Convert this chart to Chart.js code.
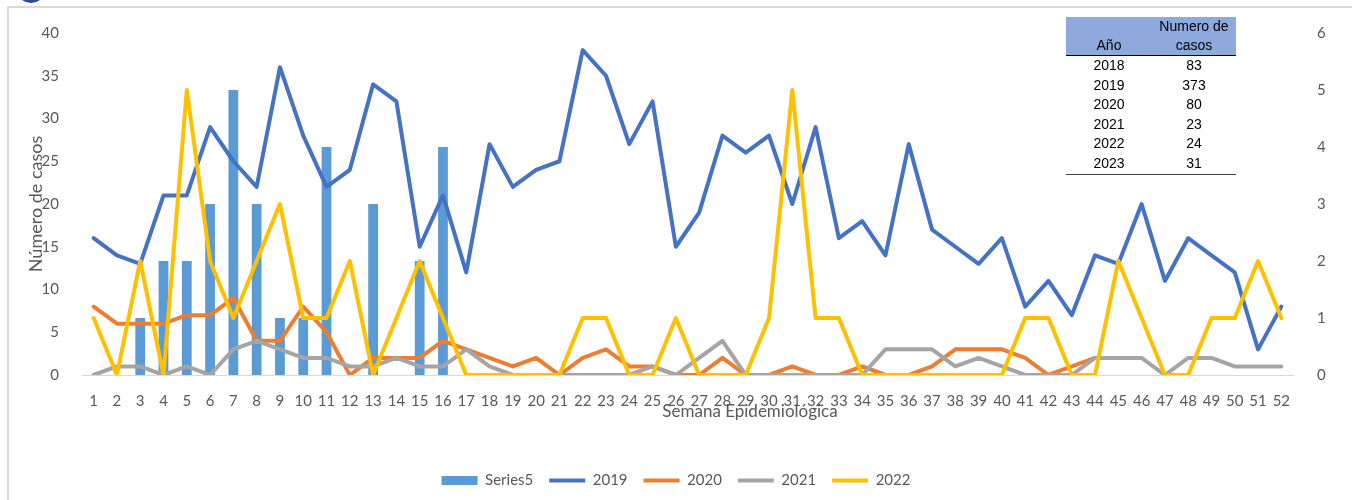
<!DOCTYPE html>
<html>
<head>
<meta charset="utf-8">
<script src="https://cdn.jsdelivr.net/npm/chart.js@4.4.1/dist/chart.umd.min.js"></script>
<style>
  body { margin: 0; background: #fff; }
  #wrap { position: relative; width: 1352px; height: 500px; overflow: hidden; }
  #frame { position: absolute; left: 7px; top: 6px; width: 1400px; height: 600px;
           border-left: 2px solid #d9d9d9; border-top: 2px solid #d9d9d9; }
  #logo { position: absolute; left: 16px; top: -27px; width: 30px; height: 30px;
          border-radius: 50%; background: #2b4c8c; }
  #chart { position: absolute; left: 0; top: 0; }
  #xTitle { position: absolute; left: 600px; top: 401px; width: 300px; text-align: center;
            font: 17px Lato, sans-serif; color: #595959; line-height: 20px; }
  #casos { position: absolute; left: 1066px; top: 17px; border-collapse: collapse;
           font: 14px "Liberation Sans", Arial, sans-serif; color: #000; }
  #casos th { background: #8ea9db; font-weight: normal; vertical-align: bottom;
              line-height: 19px; padding: 0; border-bottom: 1.5px solid #000; }
  #casos td { text-align: center; line-height: 19.6px; padding: 0; }
  #casos tr:last-child td { border-bottom: 1.5px solid #404040; }
</style>
</head>
<body>
<div id="wrap">
  <div id="frame"></div>
  <div id="logo"></div>
  <canvas id="chart" width="1352" height="500"></canvas>
  <div id="xTitle">Semana Epidemiológica</div>
  <table id="casos"></table>
</div>
<script>
/* Semanas epidemiologicas */
const semanas = [];
for (let i = 1; i <= 52; i++) semanas.push(String(i));

/* Casos por semana (eje izquierdo: 2019, 2020, 2021; eje derecho: Series5, 2022) */
const series5 = [0, 0, 1, 2, 2, 3, 5, 3, 1, 1, 4, 0, 3, 0, 2, 4, 0, 0, 0, 0, 0, 0, 0, 0, 0, 0,
                 0, 0, 0, 0, 0, 0, 0, 0, 0, 0, 0, 0, 0, 0, 0, 0, 0, 0, 0, 0, 0, 0, 0, 0, 0, 0];
const casos2019 = [16, 14, 13, 21, 21, 29, 25, 22, 36, 28, 22, 24, 34, 32, 15, 21, 12, 27, 22, 24, 25, 38, 35, 27, 32, 15,
                   19, 28, 26, 28, 20, 29, 16, 18, 14, 27, 17, 15, 13, 16, 8, 11, 7, 14, 13, 20, 11, 16, 14, 12, 3, 8];
const casos2020 = [8, 6, 6, 6, 7, 7, 9, 4, 4, 8, 5, 0, 2, 2, 2, 4, 3, 2, 1, 2, 0, 2, 3, 1, 1, 0,
                   0, 2, 0, 0, 1, 0, 0, 1, 0, 0, 1, 3, 3, 3, 2, 0, 1, 2, null, null, null, null, null, null, null, null];
const casos2021 = [0, 1, 1, 0, 1, 0, 3, 4, 3, 2, 2, 1, 1, 2, 1, 1, 3, 1, 0, 0, 0, 0, 0, 0, 1, 0,
                   2, 4, 0, 0, 0, 0, 0, 0, 3, 3, 3, 1, 2, 1, 0, 0, 0, 2, 2, 2, 0, 2, 2, 1, 1, 1];
const casos2022 = [1, 0, 2, 0, 5, 2, 1, 2, 3, 1, 1, 2, 0, 1, 2, 1, 0, 0, 0, 0, 0, 1, 1, 0, 0, 1,
                   0, 0, 0, 1, 5, 1, 1, 0, 0, 0, 0, 0, 0, 0, 1, 1, 0, 0, 2, 1, 0, 0, 1, 1, 2, 1];

/* Tabla resumen */
const anios = ['2018', '2019', '2020', '2021', '2022', '2023'];
const totales = ['83', '373', '80', '23', '24', '31'];

const tabla = document.getElementById('casos');
let html = '<tr><th style="width:86px">Año</th><th style="width:84px">Numero de<br>casos</th></tr>';
anios.forEach((a, i) => {
    html += '<tr><td>' + a + '</td><td>' + totales[i] + '</td></tr>';
});
tabla.innerHTML = html;

Chart.defaults.font.family = 'Lato, sans-serif';
Chart.defaults.color = '#595959';

const lineDataset = function(label, data, color, order) {
    return {
        type: 'line',
        label: label,
        data: data,
        borderColor: color,
        backgroundColor: color,
        borderWidth: 4,
        pointRadius: 0,
        tension: 0,
        borderJoinStyle: 'round',
        borderCapStyle: 'round',
        pointStyle: 'line',
        yAxisID: 'y',
        order: order
    }
}

const ds2022 = lineDataset('2022', casos2022, '#FFC000', 1);
ds2022.yAxisID = 'y2';

new Chart(document.getElementById('chart'), {
    type: 'bar',
    data: {
        labels: semanas,
        datasets: [
            {
                type: 'bar',
                label: 'Series5',
                data: series5,
                backgroundColor: '#5B9BD5',
                borderWidth: 0,
                barPercentage: 0.42,
                categoryPercentage: 1,
                pointStyle: 'rect',
                yAxisID: 'y2',
                order: 5
            },
            lineDataset('2019', casos2019, '#4472C4', 4),
            lineDataset('2020', casos2020, '#ED7D31', 3),
            lineDataset('2021', casos2021, '#A5A5A5', 2),
            ds2022
        ]
    },
    options: {
        responsive: false,
        animation: false,
        layout: { padding: { left: 0, right: 0, top: 33, bottom: 2 } },
        plugins: {
            tooltip: { enabled: false },
            legend: {
                position: 'bottom',
                labels: {
                    usePointStyle: true,
                    pointStyleWidth: 36,
                    boxHeight: 9,
                    padding: 16,
                    font: { size: 15 },
                    color: '#595959',
                    sort: (a, b) => a.datasetIndex - b.datasetIndex
                }
            }
        },
        scales: {
            x: {
                offset: true,
                grid: { display: false },
                border: { display: true, color: '#d9d9d9', width: 1 },
                ticks: { padding: 9, maxRotation: 0, autoSkip: false, font: { size: 15 }, color: '#595959' },
                afterFit: function(scale) { scale.height = 82; }
            },
            y: {
                position: 'left',
                min: 0,
                max: 40,
                grid: { display: false },
                border: { display: false },
                ticks: { stepSize: 5, padding: 15, font: { size: 15 }, color: '#595959' },
                title: { display: true, text: 'Número de casos', font: { size: 18 }, color: '#595959', padding: { top: 25, bottom: 0 } },
                afterFit: function(scale) { scale.width = 82; }
            },
            y2: {
                position: 'right',
                min: 0,
                max: 6,
                grid: { display: false },
                border: { display: false },
                ticks: { stepSize: 1, padding: 16, font: { size: 15 }, color: '#595959' },
                afterFit: function(scale) { scale.width = 59; }
            }
        }
    }
});
</script>
</body>
</html>
